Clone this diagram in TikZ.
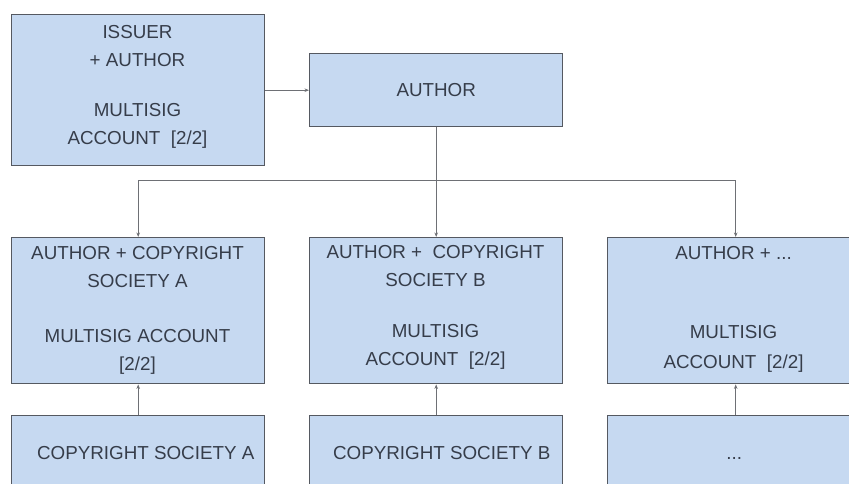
\documentclass[tikz,border=0pt]{standalone}
\usepackage{fontspec}
\setmainfont{Liberation Sans}
\usetikzlibrary{arrows.meta}

\definecolor{boxfill}{HTML}{C6D9F1}
\definecolor{boxline}{HTML}{555961}
\definecolor{wireline}{HTML}{6E7075}
\definecolor{labeltext}{HTML}{363D4A}

\tikzset{
  acctbox/.style={draw=boxline, line width=1.4pt, fill=boxfill, inner sep=0pt,
    minimum width=253pt, anchor=north west, text=labeltext,
    font=\fontsize{18.8}{28}\selectfont},
  boxlabel/.style={inner sep=0pt, align=center, anchor=north, text=labeltext,
    font=\fontsize{18.8}{28}\selectfont},
  wire/.style={draw=wireline, line width=1pt,
    -{Stealth[length=4.5pt,width=3.5pt]}},
}

\begin{document}
\begin{tikzpicture}[x=1pt, y=-1pt]
  \clip (0,0) rectangle (849,484);
  \fill[white] (0,0) rectangle (849,484);

  % top row: issuer account and author
  \node[acctbox, minimum height=151pt] (issuer) at (11,14) {};
  \node[boxlabel] (issuer-text) at (137.5,25.3)
    {ISSUER\\+ AUTHOR\\[22pt]MULTISIG\\ACCOUNT\ \ [2/2]};
  \node[acctbox, minimum height=73pt] (author) at (309,53) {AUTHOR};

  % middle row: shared multisig accounts
  \node[acctbox, minimum height=146pt] (msA) at (11,237) {};
  \node[boxlabel] (msA-text) at (137.5,246.3)
    {AUTHOR + COPYRIGHT\\SOCIETY A\\[27pt]MULTISIG ACCOUNT\\\relax[2/2]};
  \node[acctbox, minimum height=146pt] (msB) at (309,237) {};
  \node[boxlabel] (msB-text) at (435.5,245.3)
    {AUTHOR +\ \ COPYRIGHT\\SOCIETY B\\[23pt]MULTISIG\\ACCOUNT\ \ [2/2]};
  \node[acctbox, minimum height=146pt] (msC) at (607,237) {};
  \node[boxlabel] (msC-text) at (733.5,246.3)
    {AUTHOR + ...\\[51pt]MULTISIG\\[2pt]ACCOUNT\ \ [2/2]};

  % bottom row: copyright societies
  \node[acctbox, minimum height=74pt] (socA) at (11,415) {\hspace*{15pt}COPYRIGHT SOCIETY A};
  \node[acctbox, minimum height=74pt] (socB) at (309,415) {\hspace*{11pt}COPYRIGHT SOCIETY B};
  \node[acctbox, minimum height=74pt] (socC) at (607,415) {\vphantom{C}...};

  % connectors
  \draw[wire] (issuer.east |- author.west) -- (author.west);
  \coordinate (split) at (author.south |- 0,180.5);
  \draw[wire] (author.south) -- (msB.north);
  \draw[wire] (split) -| (msA.north);
  \draw[wire] (split) -| ([xshift=1.5pt]msC.north);
  \draw[wire] (socA.north) -- (msA.south);
  \draw[wire] (socB.north) -- (msB.south);
  \draw[wire] ([xshift=1.5pt]socC.north) -- ([xshift=1.5pt]msC.south);
\end{tikzpicture}
\end{document}
